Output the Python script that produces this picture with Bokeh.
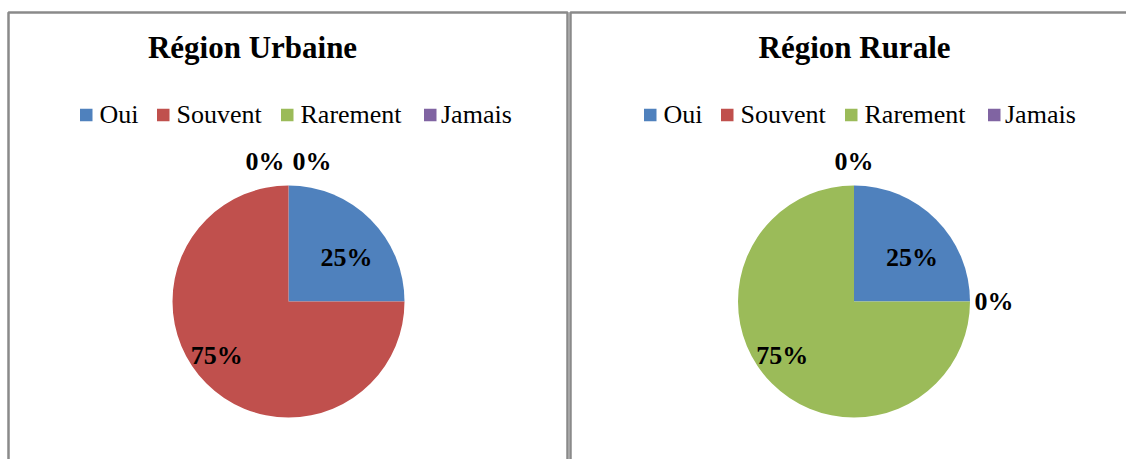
import math
from bokeh.plotting import figure
from bokeh.models import Range1d, ColumnDataSource
from bokeh.core.properties import value
from bokeh.embed import file_html
from bokeh.resources import INLINE

# ---- data ----
categories = ["Oui", "Souvent", "Rarement", "Jamais"]
colors = ["#4F81BD", "#C0504D", "#9BBB59", "#8064A2"]
urbaine = [25, 75, 0, 0]
rurale = [25, 0, 75, 0]
titles = ["Région Urbaine", "Région Rurale"]

# ---- layout (reference pixel coordinates, y measured from top) ----
W, H = 1126, 459


def X(x):
    return x


def Y(y):
    return H - y


panels = [
    dict(values=urbaine, title=titles[0], left=8, right=567, title_x=252, cx=288, legend_x=79.5),
    dict(values=rurale, title=titles[1], left=570, right=1140, title_x=854, cx=853.5, legend_x=643.5),
]
LEGEND_DX = [0, 77, 201, 344]
LEGEND_TEXT_GAP = [19.5, 19.5, 19.5, 17]
PIE_Y, R = 301, 116
LABEL_ROT = math.radians(-8)
SERIF = value("Liberation Serif")

p = figure(width=W, height=H, x_range=Range1d(0, W), y_range=Range1d(0, H),
           output_backend="svg", toolbar_location=None, min_border=0,
           x_axis_location=None, y_axis_location=None)
p.grid.visible = False
p.outline_line_color = None
p.background_fill_color = "white"
p.border_fill_color = "white"

for k, pn in enumerate(panels):
    # panel border
    xs = [X(pn["left"]), X(pn["left"]), X(pn["right"]), X(pn["right"])]
    ys = [Y(480), Y(12), Y(12), Y(480)]
    p.line(xs, ys, line_color="#8A8A8A", line_width=2.5)

    # title
    p.text(x=[X(pn["title_x"])], y=[Y(47)], text=[pn["title"]], text_font=SERIF,
           text_font_style="bold", text_font_size="31px", text_align="center",
           text_baseline="middle", text_color="black")

    # legend
    lx = [X(pn["legend_x"] + d) for d in LEGEND_DX]
    p.rect(x=[v + 6.25 for v in lx], y=[Y(114.5)] * len(categories), width=12.5, height=12.5,
           width_units="screen", height_units="screen", fill_color=colors, line_color=None)
    p.text(x=[v + g for v, g in zip(lx, LEGEND_TEXT_GAP)], y=[Y(113.5)] * len(categories),
           text=categories, text_font=SERIF, text_font_size="26px", text_align="left",
           text_baseline="middle", text_color="black")

    # pie
    vals = pn["values"]
    total = float(sum(vals))
    cx, cy = X(pn["cx"]), Y(PIE_Y)
    ws = dict(start=[], end=[], color=[])
    lab = dict(x=[], y=[], text=[])
    zero_pts = []
    cum = 0.0
    for v, c in zip(vals, colors):
        f = v / total
        a0 = math.pi / 2 - 2 * math.pi * cum
        a1 = math.pi / 2 - 2 * math.pi * (cum + f)
        if v > 0:
            ws["start"].append(a0)
            ws["end"].append(a1)
            ws["color"].append(c)
            mid = (a0 + a1) / 2 + LABEL_ROT
            rr = R * (0.55 + 0.3 * f)
            lab["x"].append(cx + rr * math.cos(mid))
            lab["y"].append(cy + rr * math.sin(mid))
            lab["text"].append(f"{v}%")
        else:
            ro = R + 24
            zero_pts.append((round(cx + ro * math.cos(a0), 1), round(cy + ro * math.sin(a0), 1), f"{v}%"))
        cum += f
    # spread coinciding outside labels
    groups = {}
    for zx, zy, t in zero_pts:
        groups.setdefault((zx, zy), []).append(t)
    for (zx, zy), ts in groups.items():
        n = len(ts)
        for i, t in enumerate(ts):
            lab["x"].append(zx + (i - (n - 1) / 2) * 47)
            lab["y"].append(zy)
            lab["text"].append(t)

    p.wedge(x=cx, y=cy, radius=R, radius_units="screen", start_angle="start", end_angle="end",
            direction="clock", fill_color="color", line_color=None, source=ColumnDataSource(ws))
    p.text(x="x", y="y", text="text", source=ColumnDataSource(lab), text_font=SERIF,
           text_font_style="bold", text_font_size="26px", text_align="center",
           text_baseline="middle", text_color="black")

open("out.html", "w").write(file_html(p, INLINE))
